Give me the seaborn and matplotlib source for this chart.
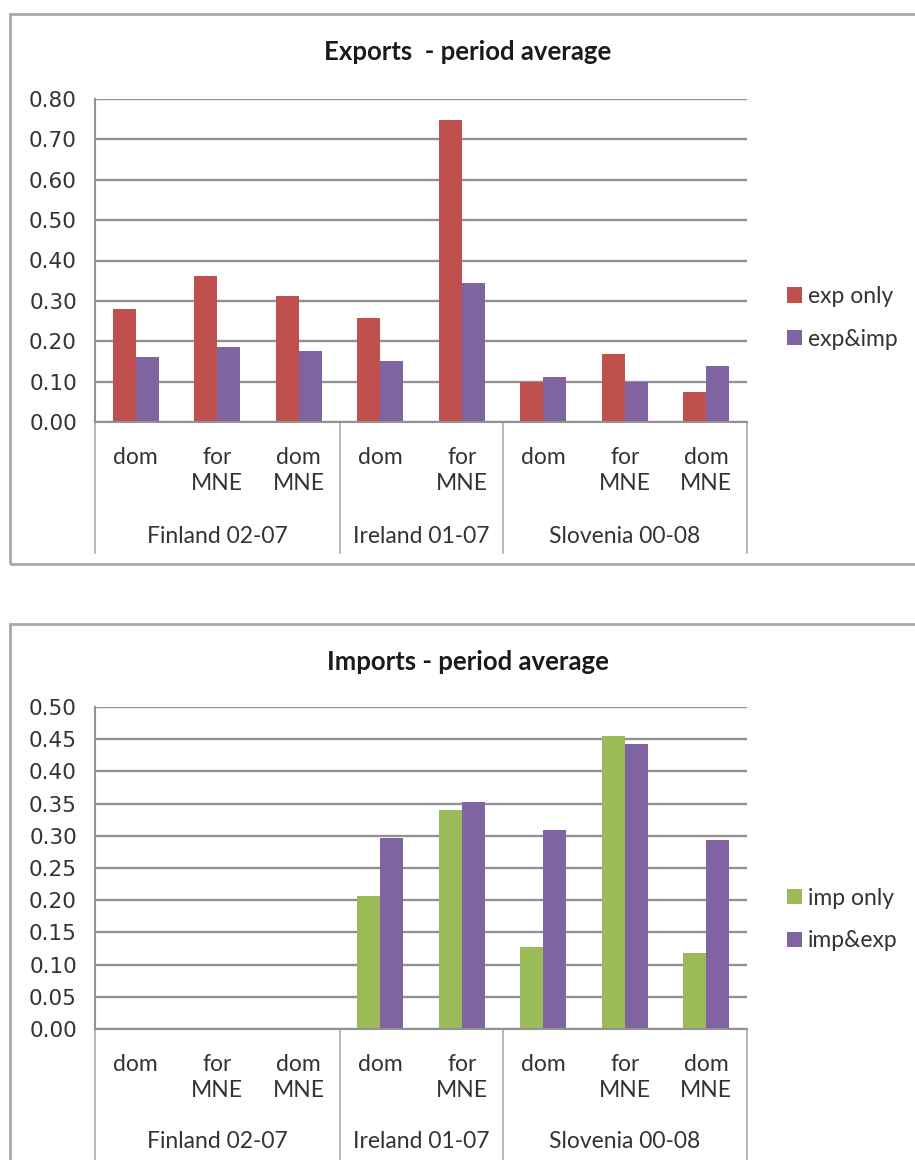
import numpy as np
import pandas as pd
import matplotlib
matplotlib.use("Agg")
import matplotlib.pyplot as plt
import matplotlib.transforms as mtransforms
from matplotlib.patches import Rectangle
import seaborn as sns

# ---------------- data ----------------
groups = ["Finland 02-07", "Ireland 01-07", "Slovenia 00-08"]
group_sizes = [3, 2, 3]
firm_types = ["dom", "for\nMNE", "dom\nMNE",
              "dom", "for\nMNE",
              "dom", "for\nMNE", "dom\nMNE"]

exp_series = ["exp only", "exp&imp"]
exp_only = [0.28, 0.362, 0.313, 0.258, 0.747, 0.098, 0.169, 0.075]
exp_imp = [0.160, 0.185, 0.175, 0.150, 0.344, 0.111, 0.098, 0.138]
exp_ticks = [0.0, 0.1, 0.2, 0.3, 0.4, 0.5, 0.6, 0.7, 0.8]

imp_series = ["imp only", "imp&exp"]
imp_only = [np.nan, np.nan, np.nan, 0.207, 0.340, 0.128, 0.455, 0.118]
imp_exp = [np.nan, np.nan, np.nan, 0.296, 0.353, 0.309, 0.443, 0.293]
imp_ticks = [0.0, 0.05, 0.1, 0.15, 0.2, 0.25, 0.3, 0.35, 0.4, 0.45, 0.5]

titles = ["Exports  - period average", "Imports - period average"]

RED = "#C0504D"
PURPLE = "#8064A2"
GREEN = "#9BBB59"

# ---------------- style ----------------
sns.set_style("white")
plt.rcParams["font.family"] = ["Lato", "DejaVu Sans"]

W, H = 915, 1160
fig = plt.figure(figsize=(W / 100, H / 100), dpi=100)

group_of_slot = [g for g, n in zip(groups, group_sizes) for _ in range(n)]
slots = [f"{g}|{i}" for i, g in enumerate(group_of_slot)]

TXT = "#333333"


def make_df(names, vals_a, vals_b):
    rows = []
    for s, a, b in zip(slots, vals_a, vals_b):
        rows.append({"slot": s, "series": names[0], "value": a})
        rows.append({"slot": s, "series": names[1], "value": b})
    return pd.DataFrame(rows)


def px_axes(left, right, top, bottom):
    return [left / W, 1 - bottom / H, (right - left) / W, (bottom - top) / H]


def draw_panel(ax, df, names, colors, ticks, title, title_y, frame_top, frame_bottom,
               sep_depth, group_y, legend_y):
    sns.barplot(data=df, x="slot", y="value", hue="series", order=slots,
                hue_order=names, palette=colors, width=0.56, saturation=1,
                errorbar=None, linewidth=0, ax=ax)
    ax.set_xlim(-0.5, len(slots) - 0.5)
    ax.set_ylim(ticks[0], ticks[-1])
    ax.set_yticks(ticks)
    ax.set_yticklabels([f"{t:.2f}" for t in ticks], fontsize=15.5,
                       color=TXT, family=["DejaVu Sans"])
    ax.set_xticks(range(len(slots)))
    ax.set_xticklabels(firm_types, fontsize=16.5, color=TXT, linespacing=1.3)
    ax.tick_params(axis="x", length=0, pad=18)
    ax.tick_params(axis="y", length=0, pad=13)
    ax.set_xlabel("")
    ax.set_ylabel("")
    ax.yaxis.grid(True, color="#929292", lw=1.7)
    ax.set_axisbelow(True)
    for s in ["top", "right"]:
        ax.spines[s].set_visible(False)
    for s in ["left", "bottom"]:
        ax.spines[s].set_color("#929292")
        ax.spines[s].set_linewidth(1.5)

    # group separators and labels under category axis
    trans = mtransforms.blended_transform_factory(ax.transData, ax.transAxes)
    bounds = np.concatenate([[0], np.cumsum(group_sizes)]) - 0.5
    for b in bounds:
        ax.plot([b, b], [0, sep_depth], transform=trans, color="#b0b0b0",
                lw=1.3, clip_on=False)
    for g, lo, hi in zip(groups, bounds[:-1], bounds[1:]):
        ax.text((lo + hi) / 2, group_y, g, transform=trans, ha="center",
                va="center", fontsize=16.5, color=TXT)

    sns.move_legend(ax, "center left", bbox_to_anchor=(1.062, legend_y),
                    title=None, frameon=False, fontsize=16.5, handlelength=0.65,
                    handleheight=0.65, handletextpad=0.25, labelspacing=0.95,
                    borderpad=0, borderaxespad=0)
    for t in ax.get_legend().get_texts():
        t.set_color(TXT)

    fig.text(468 / W, 1 - title_y / H, title, ha="center", va="center",
             fontsize=18.5, fontweight="bold", color="#1a1a1a")
    fig.add_artist(Rectangle((10 / W, 1 - frame_bottom / H), 1.2,
                             (frame_bottom - frame_top) / H,
                             transform=fig.transFigure, fill=False,
                             ec="#a8a8a8", lw=2))


ax1 = fig.add_axes(px_axes(95, 747, 99, 422))
draw_panel(ax1, make_df(exp_series, exp_only, exp_imp), exp_series, [RED, PURPLE],
           exp_ticks, titles[0], 52, 14, 564, -0.406, -0.356, 0.322)

ax2 = fig.add_axes(px_axes(95, 747, 707, 1029))
draw_panel(ax2, make_df(imp_series, imp_only, imp_exp), imp_series, [GREEN, PURPLE],
           imp_ticks, titles[1], 662, 624, 1200, -0.5, -0.348, 0.34)

fig.savefig("out.png", dpi=100, facecolor="white")
